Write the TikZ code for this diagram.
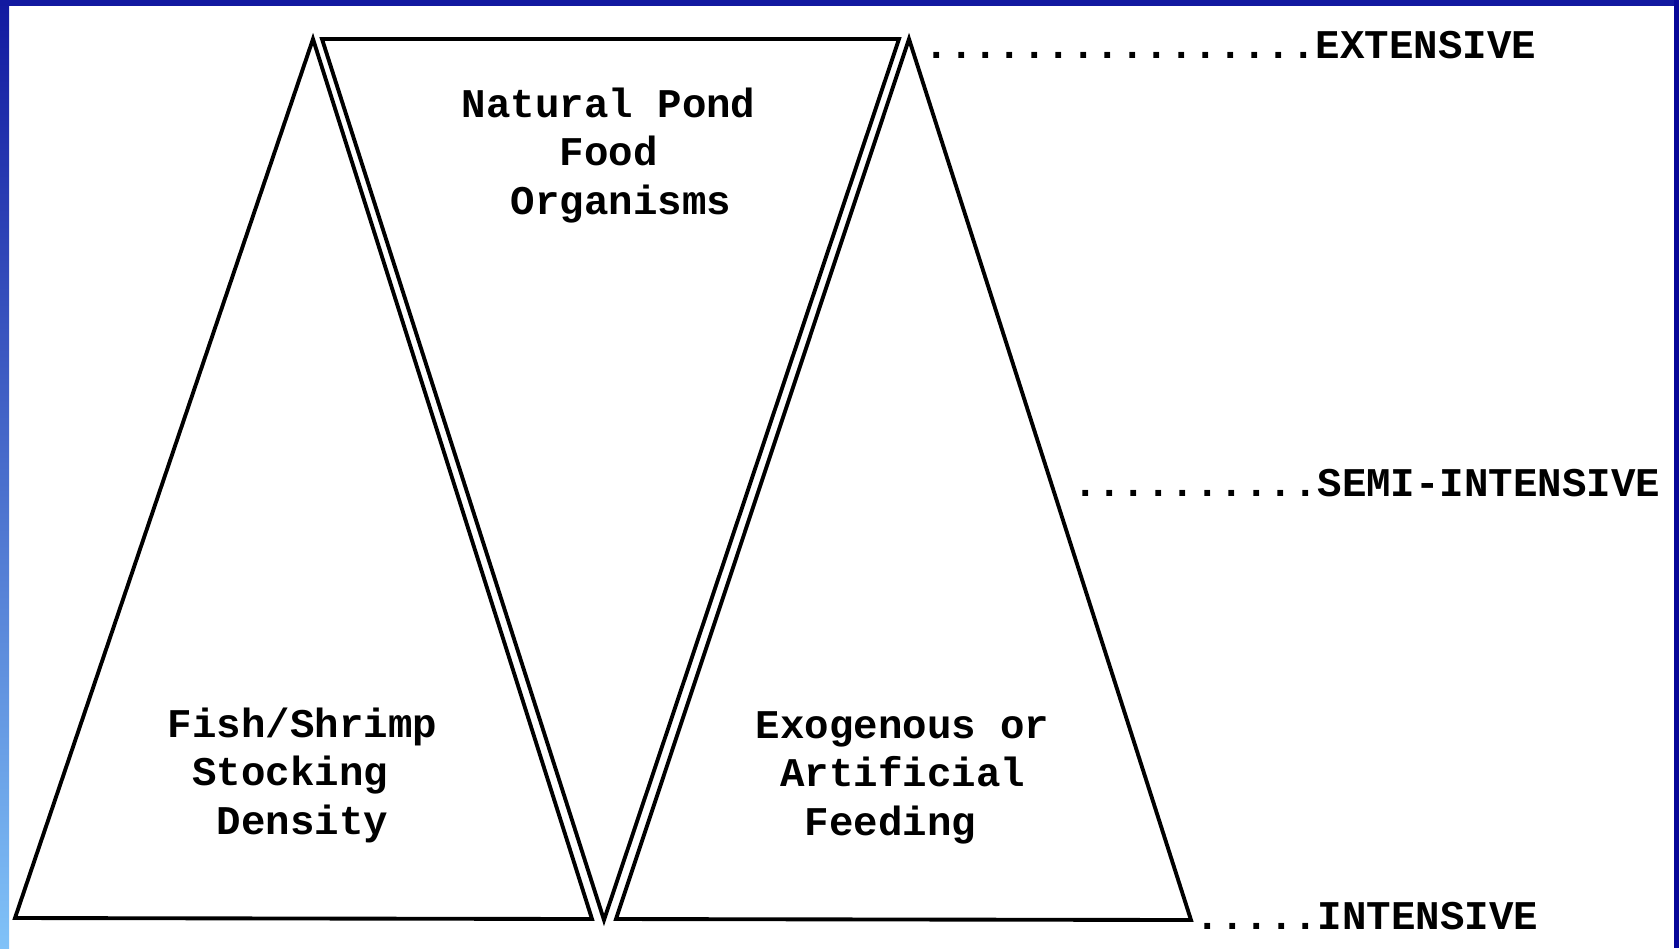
\documentclass[tikz,border=0pt]{standalone}
\usepackage{fontspec}
\usepackage{xcolor}
\newfontfamily\typefont{Liberation Mono}
\definecolor{frameDark}{HTML}{1219A0}
\definecolor{frameLight}{HTML}{80C2F8}
\definecolor{frameRight}{HTML}{08089A}

\begin{document}
\begin{tikzpicture}[x=0.02cm, y=-0.02cm, line width=2.2pt, line join=miter]
    \tikzstyle{pyramid}=[draw=black]
    \tikzstyle{annot}=[font=\typefont\bfseries\fontsize{23.2}{27.6}\selectfont, inner sep=0pt, align=left, anchor=base west]
    \tikzstyle{level}=[font=\typefont\bfseries\fontsize{23.2}{27.6}\selectfont, inner sep=0pt, anchor=base east]

    % page and blue frame
    \useasboundingbox (0,0) rectangle (1679,948);
    \fill[white] (0,0) rectangle (1679,948);
    \shade[top color=frameDark, bottom color=frameLight] (0,0) rectangle (9,948);
    \fill[frameDark] (0,0) rectangle (1679,6);
    \fill[frameRight] (1674,0) rectangle (1679,948);

    % corners of the three triangles
    \coordinate (L-top) at (313,39);
    \coordinate (L-left) at (15,918);
    \coordinate (L-right) at (592,919);
    \coordinate (M-left) at (322,39);
    \coordinate (M-right) at (899,39);
    \coordinate (M-bottom) at (604,920);
    \coordinate (R-top) at (909,39);
    \coordinate (R-left) at (616,919);
    \coordinate (R-right) at (1191,920);

    \draw[pyramid] (L-top) -- (L-left) -- (L-right) -- cycle;
    \draw[pyramid] (M-left) -- (M-right) -- (M-bottom) -- cycle;
    \draw[pyramid] (R-top) -- (R-left) -- (R-right) -- cycle;

    % texts inside the triangles (base = last line)
    \node[annot] (pond) at (460,214) {Natural Pond\\\ \ \ \ Food\\\ \ Organisms};
    \node[annot] (stock) at (166,834) {Fish/Shrimp\\\ Stocking\\\ \ Density};
    \node[annot] (feed) at (754,835) {Exogenous or\\\ Artificial\\\ \ Feeding};

    % levels on the right
    \node[level] (ext) at (1538,58) {................EXTENSIVE};
    \node[level] (semi) at (1662,496) {..........SEMI-INTENSIVE};
    \node[level] (int) at (1540,929) {.....INTENSIVE};
\end{tikzpicture}
\end{document}
